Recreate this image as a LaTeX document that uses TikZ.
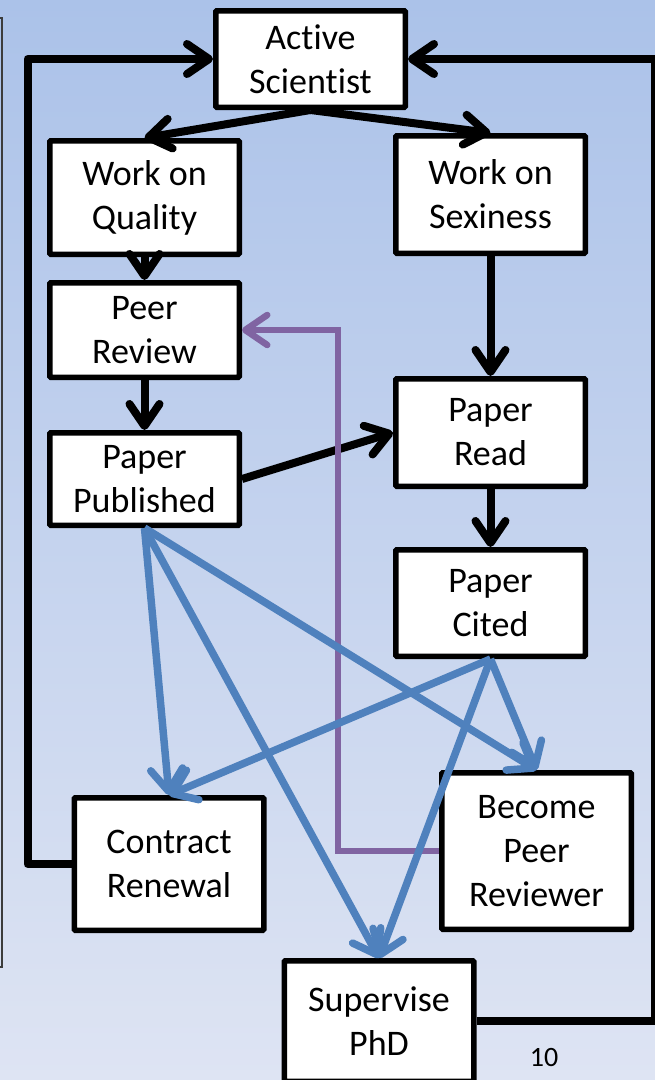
\documentclass[tikz,border=0pt]{standalone}
\usepackage{fontspec}
\setmainfont{Carlito}[Ligatures=CommonOff]
\usetikzlibrary{arrows.meta, calc}
\definecolor{color_sky_top}{HTML}{ABC2E9}
\definecolor{color_sky_bottom}{HTML}{DEE4F3}
\definecolor{color_text}{HTML}{000000}
\definecolor{color_mute}{HTML}{3C3C3C}
\definecolor{color_reward}{HTML}{4F81BD}
\definecolor{color_review}{HTML}{8064A2}
\tikzset{
  career_box/.style={draw=black, line width=5.5pt, fill=white, rounded corners=1pt, minimum width=189.5pt, inner sep=0pt, align=center, text=color_text, font=\fontsize{36}{44}\selectfont},
  career_arrow/.style={-{Straight Barb[length=22pt, width=30pt, round]}, draw=black, line width=8pt, line join=round},
  reward_arrow/.style={-{Straight Barb[length=22pt, width=32pt, round]}, draw=color_reward, line width=7.5pt},
  review_arrow/.style={-{Straight Barb[length=22pt, width=30pt, round]}, draw=color_review, line width=6.5pt},
  page_number/.style={font=\fontsize{28}{32}\selectfont, text=color_text, inner sep=0pt},
}

\begin{document}
\begin{tikzpicture}[x=1pt, y=-1pt]
    \useasboundingbox (0,0) rectangle (655,1080);
    \shade[top color=color_sky_top, bottom color=color_sky_bottom] (0,0) rectangle (655,1080);
    % edge of the neighbouring panel
    \draw[color_mute, line width=1.5pt] (-5,18) -- (2,18) -- (2,967) -- (-5,967);
    \node[career_box, minimum height=96.5pt] (active) at (310.5,59) {Active\\Scientist};
    \node[career_box, minimum height=113.5pt] (quality) at (144.5,197.5) {Work on\\Quality};
    \node[career_box, minimum height=117.5pt] (sexiness) at (490.5,194.5) {Work on\\Sexiness};
    \node[career_box, minimum height=94.5pt] (review) at (144.5,330) {Peer\\Review};
    \node[career_box, minimum height=107.5pt] (read) at (490.5,432.5) {Paper\\Read};
    \node[career_box, minimum height=92.5pt] (published) at (144.5,479) {Paper\\Published};
    \node[career_box, minimum height=106.5pt] (cited) at (490.5,603) {Paper\\Cited};
    \node[career_box, minimum height=132.5pt] (renewal) at (169,864) {Contract\\Renewal};
    \node[career_box, minimum height=156.5pt] (reviewer) at (536.5,851) {Become\\Peer\\Reviewer};
    \node[career_box, minimum height=120.5pt] (phd) at (379,1021) {Supervise\\PhD};
    % main path
    \draw[career_arrow] (active.south) -- (quality.north);
    \draw[career_arrow] (active.south) -- (sexiness.north);
    \draw[career_arrow] (quality.south) -- (review.north);
    \draw[career_arrow] (review.south) -- (published.north);
    \draw[career_arrow] (sexiness.south) -- (read.north);
    \draw[career_arrow] (published.east) -- (read.west);
    \draw[career_arrow] (read.south) -- (cited.north);
    % back to the start
    \draw[career_arrow] (renewal.west) -- ++(-44,0) |- (active.west);
    \draw[career_arrow] (phd.east) -- ++(178,0) |- (active.east);
    \draw[review_arrow] (reviewer.west) -- ++(-101,0) |- (review.east);
    % rewards
    \foreach \goal in {renewal, phd, reviewer} {
      \draw[reward_arrow] (published.south) -- (\goal.north);
      \draw[reward_arrow] (cited.south) -- (\goal.north);
    }
    \node[page_number] (slide_no) at (544,1057) {10};
  \end{tikzpicture}
\end{document}
